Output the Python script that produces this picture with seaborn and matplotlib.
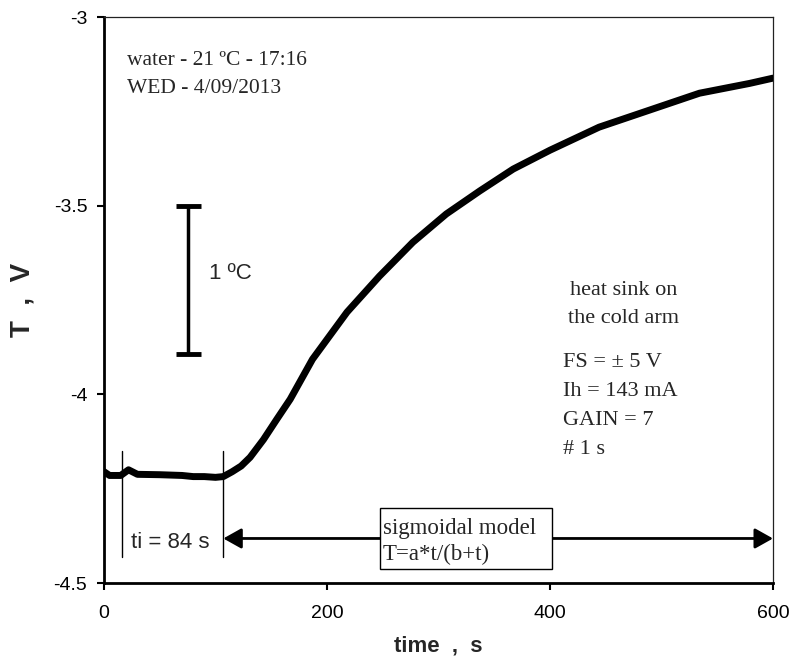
import matplotlib
matplotlib.use("Agg")
import matplotlib.pyplot as plt
import matplotlib.patches as mpatches
import pandas as pd
import seaborn as sns

# readings of the logged signal (time in s, output in V)
time_s = [0, 5, 15, 22, 30, 50, 70, 80, 90, 100, 107, 115, 123, 131, 143,
          155, 167, 187, 218, 247, 277, 307, 337, 367, 400, 444, 489, 534,
          579, 600]
signal_v = [-4.205, -4.215, -4.215, -4.200, -4.212, -4.213, -4.215, -4.218,
            -4.218, -4.220, -4.218, -4.205, -4.190, -4.167, -4.120, -4.066,
            -4.013, -3.907, -3.782, -3.687, -3.597, -3.522, -3.461, -3.403,
            -3.353, -3.292, -3.247, -3.202, -3.176, -3.162]

x_ticks = [0, 200, 400, 600]
y_ticks = [-4.5, -4, -3.5, -3]
y_tick_labels = ["-4.5", "-4", "-3.5", "-3"]

info_lines = ["FS = ± 5 V", "Ih = 143 mA", "GAIN = 7", "# 1 s"]

sns.set_style("ticks")
plt.rcParams['font.family'] = ['Liberation Sans', 'DejaVu Sans']
plt.rcParams['axes.unicode_minus'] = False

df = pd.DataFrame({"time": time_s, "T": signal_v})

fig = plt.figure(figsize=(7.96, 6.57), dpi=100)
ax = fig.add_axes([104 / 796, 1 - 583 / 657, 669 / 796, 566 / 657])

sns.lineplot(data=df, x="time", y="T", ax=ax, color="black", linewidth=5,
             solid_capstyle="round", solid_joinstyle="round", zorder=3)

ax.set_xlim(0, 600)
ax.set_ylim(-4.5, -3)
ax.set_xticks(x_ticks)
ax.set_xticklabels([str(v) for v in x_ticks])
ax.set_yticks(y_ticks)
ax.set_yticklabels(y_tick_labels)
ax.tick_params(axis="both", direction="out", length=5, width=1.5,
               labelsize=14, colors="black")
ax.tick_params(axis="x", pad=11)
ax.tick_params(axis="y", pad=7)

for side in ["left", "bottom"]:
    ax.spines[side].set_linewidth(2)
    ax.spines[side].set_color("black")
for side in ["top", "right"]:
    ax.spines[side].set_visible(True)
    ax.spines[side].set_linewidth(0.9)
    ax.spines[side].set_color("#222222")

ax.set_xlabel("time  ,  s", fontsize=16, fontweight="bold")
ax.set_ylabel("T  ,  V", fontsize=20, fontweight="bold")
ax.xaxis.set_label_coords(0.5, -0.092)
ax.yaxis.set_label_coords(-0.102, 0.5)

serif = ['Liberation Serif', 'DejaVu Serif']

# header
ax.text(20.6, -3.127, "water - 21 ºC - 17:16", family=serif, fontsize=15.5,
        va="baseline")
ax.text(20.6, -3.202, "WED - 4/09/2013", family=serif, fontsize=15.5,
        va="baseline")

# 1 ºC scale bar
ax.errorbar(75, -3.6975, yerr=0.1965, color="black", elinewidth=2.5,
            capsize=9, capthick=3.5)
ax.text(94, -3.679, "1 ºC", fontsize=16, va="center", ha="left")

# right-hand notes
ax.text(466, -3.737, "heat sink on", family=serif, fontsize=16,
        ha="center", va="baseline")
ax.text(466, -3.812, "the cold arm", family=serif, fontsize=16,
        ha="center", va="baseline")
for i, line in enumerate(info_lines):
    ax.text(411.5, -3.928 - i * 0.0765, line, family=serif, fontsize=16,
            va="baseline")

# ti marker lines
for tx in [16, 107]:
    ax.plot([tx, tx], [-4.151, -4.43], color="black", linewidth=1)
ax.text(59.6, -4.393, "ti = 84 s", fontsize=16, ha="center", va="center")

# sigmoidal model arrow and box
ax.annotate("", xy=(600, -4.382), xytext=(107, -4.382),
            arrowprops=dict(arrowstyle="<|-|>,head_length=0.5,head_width=0.28",
                            mutation_scale=22, lw=2, color="black",
                            shrinkA=0, shrinkB=0), zorder=2)
box = mpatches.Rectangle((247.3, -4.464), 154.1, 0.162, facecolor="white",
                         edgecolor="black", linewidth=1, zorder=4)
ax.add_patch(box)
ax.text(250, -4.369, "sigmoidal model", family=serif, fontsize=16.5,
        va="baseline", zorder=5)
ax.text(250, -4.438, "T=a*t/(b+t)", family=serif, fontsize=16.5,
        va="baseline", zorder=5)

fig.savefig("out.png", dpi=100)
